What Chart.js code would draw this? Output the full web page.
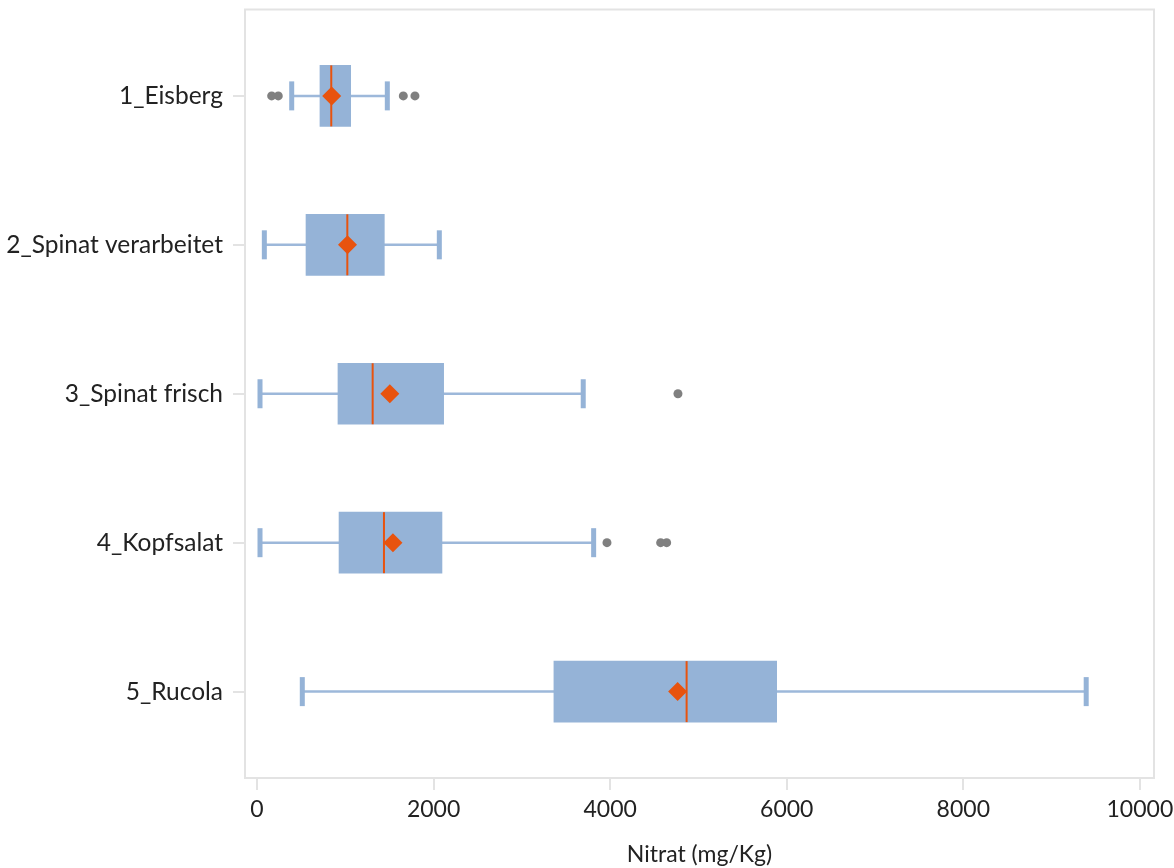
<!DOCTYPE html>
<html>
<head>
<meta charset="utf-8">
<script src="https://cdn.jsdelivr.net/npm/chart.js@4/dist/chart.umd.min.js"></script>
<style>
  html, body { margin: 0; padding: 0; background: #fff; }
  #wrap { width: 1174px; height: 868px; }
</style>
</head>
<body>
<div id="wrap"><canvas id="grafico"></canvas></div>
<script>
// Werte (Nitrat in mg/Kg)
const kategorien = ["1_Eisberg", "2_Spinat verarbeitet", "3_Spinat frisch", "4_Kopfsalat", "5_Rucola"];
const whiskerMin = [393, 83, 34, 34, 513];
const quartil1   = [713, 555, 917, 929, 3363];
const median     = [841, 1023, 1310, 1438, 4866];
const quartil3   = [1061, 1442, 2114, 2095, 5886];
const whiskerMax = [1476, 2065, 3695, 3813, 9392];
const mittelwert = [846, 1025, 1504, 1540, 4764];
const ausreisser = [[166, 241, 1657, 1789], [], [4768], [3964, 4572, 4640], []];
const xTicks = [0, 2000, 4000, 6000, 8000, 10000];

const BLAU = "#95b3d7";
const ORANGE = "#e8530e";
const GRAU = "#808080";
const RAHMEN = "#e3e3e3";
const schrift = "Lato, 'Noto Sans', sans-serif";

// y = Position 1..5 (von oben nach unten)
const pos = kategorien.map((_, i) => i + 1);

const boxDaten = pos.map((y, i) => ({ x: [quartil1[i], quartil3[i]], y }));
const mittelDaten = pos.map((y, i) => ({ x: mittelwert[i], y }));
const ausreisserDaten = [];
ausreisser.forEach((liste, i) => liste.forEach(v => ausreisserDaten.push({ x: v, y: pos[i] })));

// Rahmen um den Plotbereich
const rahmen = {
  id: "rahmen",
  beforeDatasetsDraw(chart) {
    const { ctx, chartArea: a } = chart;
    ctx.save();
    ctx.strokeStyle = RAHMEN;
    ctx.lineWidth = 2;
    ctx.strokeRect(a.left, a.top, a.right - a.left, a.bottom - a.top);
    ctx.restore();
  },
};

// Whisker + Median, direkt vor/nach den Boxen gezeichnet
const whisker = {
  id: "whisker",
  beforeDatasetDraw(chart, args) {
    if (args.index !== 0) return;
    const { ctx, scales: { x, y } } = chart;
    ctx.save();
    ctx.strokeStyle = "#9db8da";
    ctx.lineWidth = 2.5;
    pos.forEach((p, i) => {
      const py = y.getPixelForValue(p);
      ctx.beginPath();
      ctx.moveTo(x.getPixelForValue(whiskerMin[i]), py);
      ctx.lineTo(x.getPixelForValue(whiskerMax[i]), py);
      ctx.stroke();
    });
    ctx.restore();
  },
  afterDatasetDraw(chart, args) {
    if (args.index !== 0) return;
    const { ctx, scales: { x, y } } = chart;
    ctx.save();
    pos.forEach((p, i) => {
      const py = y.getPixelForValue(p);
      ctx.fillStyle = BLAU;
      [whiskerMin[i], whiskerMax[i]].forEach(v => {
        const px = x.getPixelForValue(v);
        ctx.fillRect(px - 2.5, py - 14.5, 5, 29);
      });
      ctx.strokeStyle = ORANGE;
      ctx.lineWidth = 2;
      const mx = x.getPixelForValue(median[i]);
      ctx.beginPath();
      ctx.moveTo(mx, py - 30.5);
      ctx.lineTo(mx, py + 30.5);
      ctx.stroke();
    });
    ctx.restore();
  },
};

new Chart(document.getElementById("grafico"), {
  type: "bar",
  data: {
    datasets: [
      {
        type: "bar",
        indexAxis: "y",
        data: boxDaten,
        backgroundColor: BLAU,
        borderWidth: 0,
        barThickness: 61,
        order: 3,
      },
      {
        type: "scatter",
        data: ausreisserDaten,
        pointStyle: "circle",
        pointRadius: 4.5,
        backgroundColor: GRAU,
        borderWidth: 0,
        order: 2,
      },
      {
        type: "scatter",
        data: mittelDaten,
        pointStyle: "rectRot",
        pointRadius: 9.5,
        backgroundColor: ORANGE,
        borderWidth: 0,
        order: 1,
      },
    ],
  },
  options: {
    responsive: true,
    maintainAspectRatio: false,
    animation: false,
    layout: { padding: { top: 7, right: 20, left: 0, bottom: 0 } },
    plugins: { legend: { display: false }, tooltip: { enabled: false } },
    scales: {
      x: {
        type: "linear",
        offset: false,
        min: -136,
        max: 10160,
        afterBuildTicks: s => { s.ticks = xTicks.map(v => ({ value: v })); },
        afterFit: s => { s.height = 90; s.paddingLeft = 0; s.paddingRight = 0; },
        grid: { offset: false, drawOnChartArea: false, drawTicks: true, tickLength: 12, color: RAHMEN, lineWidth: 2 },
        border: { display: false },
        ticks: {
          color: "#222",
          font: { family: schrift, size: 23 },
          padding: 6,
          maxRotation: 0,
          callback: v => String(v),
        },
        title: {
          display: true,
          text: "Nitrat (mg/Kg)",
          color: "#222",
          font: { family: schrift, size: 23 },
          padding: { top: 0, bottom: 0 },
        },
      },
      y: {
        type: "linear",
        offset: false,
        reverse: true,
        min: 0.42,
        max: 5.58,
        afterBuildTicks: s => { s.ticks = pos.map(v => ({ value: v })); },
        afterFit: s => { s.width = 245; s.paddingTop = 0; s.paddingBottom = 0; },
        grid: { offset: false, drawOnChartArea: false, drawTicks: true, tickLength: 12, color: RAHMEN, lineWidth: 2 },
        border: { display: false },
        ticks: {
          color: "#222",
          font: { family: schrift, size: 24.5 },
          padding: 10,
          callback: v => kategorien[v - 1] || "",
        },
      },
    },
  },
  plugins: [rahmen, whisker],
});
</script>
</body>
</html>
